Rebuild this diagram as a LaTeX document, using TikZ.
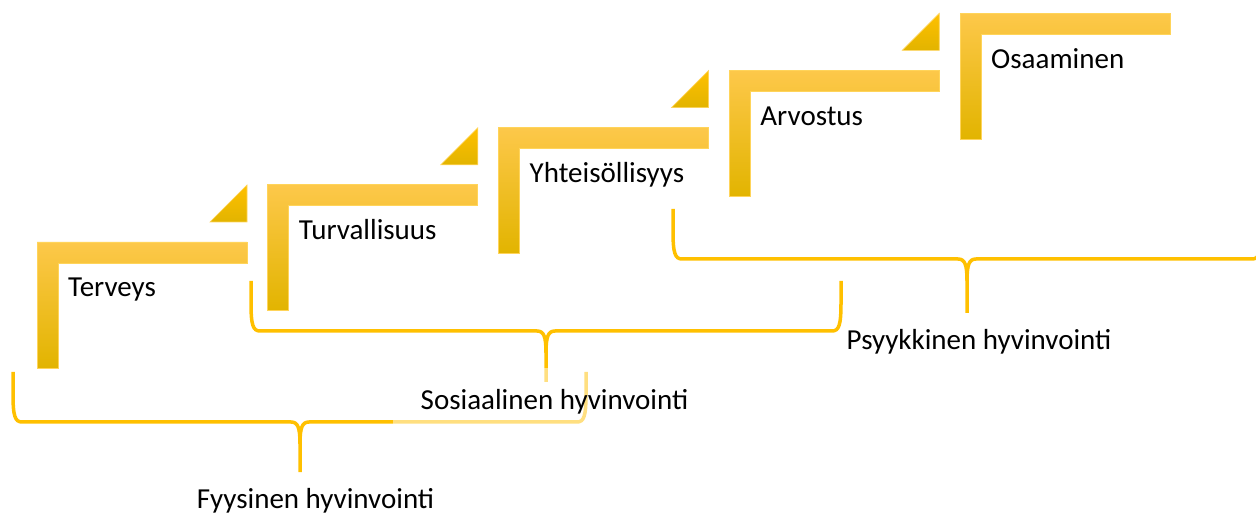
\documentclass[tikz,border=0pt]{standalone}
\usepackage{fontspec}
\setmainfont{Carlito}
\definecolor{gold}{HTML}{FFC000}
\definecolor{goldlight}{HTML}{FDC84A}
\definecolor{golddark}{HTML}{E2B400}
\definecolor{goldedge}{HTML}{FFD45A}
\tikzset{
  stepshape/.style={top color=goldlight, middle color=gold, bottom color=golddark, draw=goldedge, line width=0.6pt},
  cornertri/.style={top color=gold, bottom color=golddark, draw=goldedge, line width=0.6pt},
  bracepath/.style={draw=gold, line width=3.5pt, line join=round},
  steplabel/.style={anchor=base west, inner sep=0pt, font=\fontsize{29}{35}\selectfont},
  grouplabel/.style={anchor=base, inner sep=0pt, font=\fontsize{29}{35}\selectfont},
}
\newcommand\hbrace[5]{%
  \draw[bracepath] (#1,#3) -- (#1,#3+22) .. controls (#1,#3+44) and (#1+2,#3+50) .. (#1+9,#3+50)
    -- (#4-9,#3+50) .. controls (#4-2,#3+50) and (#4,#3+56) .. (#4,#3+72) -- (#4,#3+#5);
  \draw[bracepath] (#4,#3+72) .. controls (#4,#3+56) and (#4+2,#3+50) .. (#4+9,#3+50)
    -- (#2-9,#3+50) .. controls (#2-2,#3+50) and (#2,#3+44) .. (#2,#3+22) -- (#2,#3);
}
\begin{document}
\begin{tikzpicture}[x=1pt,y=-1pt]
\useasboundingbox (0,0) rectangle (1256,518);
\clip (0,0) rectangle (1256,518);
% steps
\foreach \i/\t/\n in {0/Terveys/s1, 1/Turvallisuus/s2, 2/Yhteisöllisyys/s3, 3/Arvostus/s4, 4/Osaaminen/s5}{
  \pgfmathsetmacro\X{37+230.75*\i}
  \pgfmathsetmacro\Y{242-57.2*\i}
  \shade[stepshape] (\X,\Y) -- ++(210,0) -- ++(0,21) -- ++(-189,0) -- ++(0,105) -- ++(-21,0) -- cycle;
  \node[steplabel] (\n) at (\X+31,\Y+55) {\t};
}
% corner triangles
\foreach \i in {0,1,2,3}{
  \pgfmathsetmacro\X{37+230.75*\i}
  \pgfmathsetmacro\Y{242-57.2*\i}
  \shade[cornertri] (\X+210,\Y-57) -- (\X+210,\Y-20) -- (\X+173,\Y-20) -- cycle;
}
% braces
\hbrace{13}{586}{372}{300}{100}
\hbrace{251}{841}{281}{546}{101}
\hbrace{673}{1261}{209}{967}{104}
% group labels
\node[grouplabel, fill=white, fill opacity=0.5, text opacity=1, minimum width=323pt, text height=42pt, text depth=24pt] (sos) at (554.5,410) {Sosiaalinen hyvinvointi};
\node[grouplabel] (fyy) at (315.5,508) {Fyysinen hyvinvointi};
\node[grouplabel] (psy) at (979,350) {Psyykkinen hyvinvointi};
\end{tikzpicture}
\end{document}
